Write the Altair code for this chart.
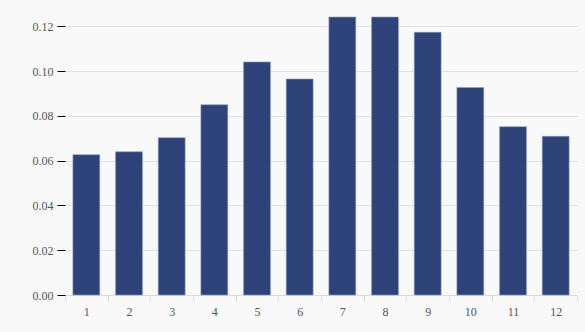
import altair as alt
import pandas as pd

months = [str(i) for i in range(1, 13)]
values = [0.0627, 0.0640, 0.0703, 0.0850, 0.1041, 0.0965,
          0.1242, 0.1242, 0.1174, 0.0927, 0.0752, 0.0709]

df = pd.DataFrame({"month": months, "value": values})

FONT = "Liberation Serif"

chart = alt.Chart(df).mark_bar(
    width=alt.RelativeBandSize(0.63),
    color="#2e4379",
    stroke="#8a9cc4",
    strokeWidth=0.6,
).encode(
    x=alt.X("month:N", sort=months, title=None,
            scale=alt.Scale(paddingInner=0, paddingOuter=0),
            axis=alt.Axis(labelAngle=0, tickBand="extent", domainColor="#d9d9d9",
                          tickColor="#d9d9d9", tickSize=6, labelPadding=5,
                          labelFont=FONT, labelFontSize=12, labelColor="#555555",
                          grid=False)),
    y=alt.Y("value:Q", title=None,
            scale=alt.Scale(domain=[0, 0.1242], nice=False, zero=True),
            axis=alt.Axis(values=[0, 0.02, 0.04, 0.06, 0.08, 0.10, 0.12], format=".2f",
                          domain=False, tickColor="#000000", tickSize=8, labelPadding=4,
                          labelFont=FONT, labelFontSize=12, labelColor="#555555",
                          gridColor="#e0e0e0", gridWidth=1)),
).properties(
    width=512, height=278,
    background="#f9f9f9",
    padding={"left": 65, "top": 17, "right": 8, "bottom": 37},
    autosize=alt.AutoSizeParams(type="none"),
).configure_view(stroke=None)

chart.save("out.html", embed_options={"renderer": "svg", "actions": False})
